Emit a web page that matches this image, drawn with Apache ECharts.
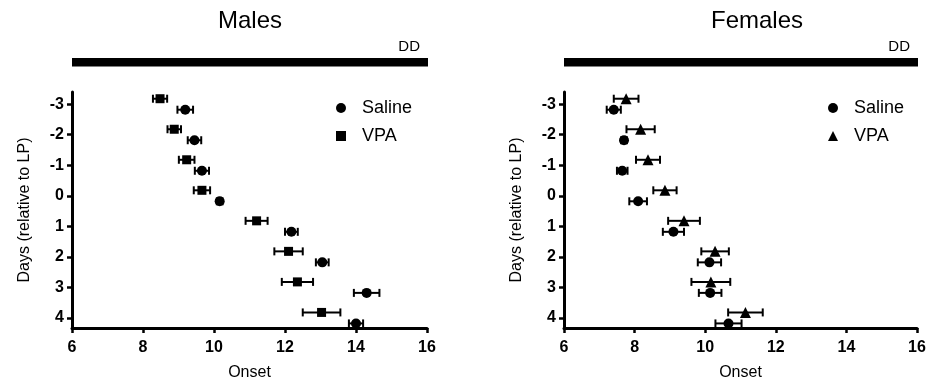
<!DOCTYPE html>
<html><head><meta charset="utf-8">
<script src="https://cdn.jsdelivr.net/npm/echarts@6/dist/echarts.min.js"></script>
<style>html,body{margin:0;padding:0;background:#fff}#c{width:929px;height:385px}</style>
</head><body><div id="c"></div>
<script>
const days = [-3, -2, -1, 0, 1, 2, 3, 4];
const maleSaline = [9.19, 9.45, 9.66, 10.16, 12.18, 13.05, 14.30, 14.00];
const maleSalineErr = [0.22, 0.19, 0.20, 0.08, 0.18, 0.18, 0.36, 0.20];
const maleVPA = [8.48, 8.88, 9.23, 9.66, 11.20, 12.10, 12.35, 13.03];
const maleVPAErr = [0.20, 0.19, 0.22, 0.23, 0.31, 0.40, 0.44, 0.53];
const femaleSaline = [7.41, 7.70, 7.65, 8.10, 9.10, 10.12, 10.14, 10.66];
const femaleSalineErr = [0.20, 0.08, 0.15, 0.25, 0.30, 0.33, 0.32, 0.37];
const femaleVPA = [7.76, 8.17, 8.38, 8.86, 9.40, 10.28, 10.16, 11.14];
const femaleVPAErr = [0.35, 0.40, 0.34, 0.33, 0.45, 0.39, 0.55, 0.49];
const panelTitles = ['Males', 'Females'];
const groupNames = ['Saline', 'VPA'];
const conditionLabel = 'DD';
const xRange = [6, 16];

const FONT = '"Liberation Sans", Arial, sans-serif';
const SAL_OFF = 0.18, VPA_OFF = -0.18;

function pts(vals, off) { return vals.map((v, i) => [v, days[i] + off]); }
function errs(vals, e, off) { return vals.map((v, i) => [v - e[i], days[i] + off, v + e[i]]); }

function errRender(params, api) {
  const lo = api.value(0), y = api.value(1), hi = api.value(2);
  const p1 = api.coord([lo, y]), p2 = api.coord([hi, y]);
  const c = 4;
  const style = { stroke: '#000', lineWidth: 2 };
  return { type: 'group', children: [
    { type: 'line', shape: { x1: p1[0], y1: p1[1], x2: p2[0], y2: p2[1] }, style },
    { type: 'line', shape: { x1: p1[0], y1: p1[1] - c, x2: p1[0], y2: p1[1] + c }, style },
    { type: 'line', shape: { x1: p2[0], y1: p2[1] - c, x2: p2[0], y2: p2[1] + c }, style }
  ]};
}

function xAxis(i) {
  return {
    gridIndex: i, type: 'value', min: xRange[0], max: xRange[1], interval: 2,
    name: 'Onset', nameLocation: 'middle', nameGap: 37,
    nameTextStyle: { fontFamily: FONT, fontSize: 16, color: '#000' },
    axisLine: { onZero: false, lineStyle: { color: '#000', width: 3 } },
    axisTick: { length: 5, lineStyle: { color: '#000', width: 2.5 } },
    axisLabel: { fontFamily: FONT, fontSize: 16, fontWeight: 'bold', color: '#000', margin: 12 },
    splitLine: { show: false }
  };
}
function yAxis(i) {
  return {
    gridIndex: i, type: 'value', inverse: true, min: -3.4, max: 4.33,
    name: 'Days (relative to LP)', nameLocation: 'middle', nameGap: 39, nameRotate: 90,
    nameTextStyle: { fontFamily: FONT, fontSize: 16, color: '#000' },
    axisLine: { onZero: false, lineStyle: { color: '#000', width: 3 } },
    axisTick: { length: 5, customValues: days, lineStyle: { color: '#000', width: 2.5 } },
    axisLabel: { customValues: days, fontFamily: FONT, fontSize: 16, fontWeight: 'bold', color: '#000', margin: 8 },
    splitLine: { show: false }
  };
}

function legend(left, icons) {
  return {
    orient: 'vertical', left: left, top: 94, itemWidth: 10, itemHeight: 10, itemGap: 10,
    textStyle: { fontFamily: FONT, fontSize: 18, color: '#000', padding: [0, 0, 0, 11] },
    itemStyle: { color: '#000', opacity: 1 },
    data: groupNames.map((n, k) => ({ name: n, icon: icons[k] }))
  };
}

const markerStyle = { color: '#000', opacity: 1 };
const chart = echarts.init(document.getElementById('c'), null, { renderer: 'canvas' });
const option = {
  animation: false,
  backgroundColor: '#fff',
  title: [
    { text: panelTitles[0], left: 245, top: 4, textAlign: 'center', textStyle: { fontFamily: FONT, fontSize: 24, fontWeight: 'normal', color: '#000' } },
    { text: panelTitles[1], left: 752, top: 4, textAlign: 'center', textStyle: { fontFamily: FONT, fontSize: 24, fontWeight: 'normal', color: '#000' } }
  ],
  legend: [legend(331, ['circle', 'rect']), legend(823, ['circle', 'triangle'])],
  grid: [
    { left: 72, right: 502, top: 92, bottom: 57, containLabel: false, outerBoundsMode: 'none' },
    { left: 564, right: 12, top: 92, bottom: 57, containLabel: false, outerBoundsMode: 'none' }
  ],
  xAxis: [xAxis(0), xAxis(1)],
  yAxis: [yAxis(0), yAxis(1)],
  series: [
    { type: 'custom', xAxisIndex: 0, yAxisIndex: 0, renderItem: errRender, encode: { x: [0, 2], y: 1 }, data: errs(maleVPA, maleVPAErr, VPA_OFF), z: 2, silent: true },
    { type: 'custom', xAxisIndex: 0, yAxisIndex: 0, renderItem: errRender, encode: { x: [0, 2], y: 1 }, data: errs(maleSaline, maleSalineErr, SAL_OFF), z: 2, silent: true },
    { type: 'custom', xAxisIndex: 1, yAxisIndex: 1, renderItem: errRender, encode: { x: [0, 2], y: 1 }, data: errs(femaleVPA, femaleVPAErr, VPA_OFF), z: 2, silent: true },
    { type: 'custom', xAxisIndex: 1, yAxisIndex: 1, renderItem: errRender, encode: { x: [0, 2], y: 1 }, data: errs(femaleSaline, femaleSalineErr, SAL_OFF), z: 2, silent: true },
    { name: groupNames[0], type: 'scatter', xAxisIndex: 0, yAxisIndex: 0, symbol: 'circle', symbolSize: 10, itemStyle: markerStyle, data: pts(maleSaline, SAL_OFF), z: 3 },
    { name: groupNames[1], type: 'scatter', xAxisIndex: 0, yAxisIndex: 0, symbol: 'rect', symbolSize: 9, itemStyle: markerStyle, data: pts(maleVPA, VPA_OFF), z: 3 },
    { name: groupNames[0], type: 'scatter', xAxisIndex: 1, yAxisIndex: 1, symbol: 'circle', symbolSize: 10, itemStyle: markerStyle, data: pts(femaleSaline, SAL_OFF), z: 3 },
    { name: groupNames[1], type: 'scatter', xAxisIndex: 1, yAxisIndex: 1, symbol: 'triangle', symbolSize: 11, itemStyle: markerStyle, data: pts(femaleVPA, VPA_OFF), z: 3 }
  ]
};
chart.setOption(option);

// DD condition bars spanning each panel's x range
const gfx = [];
[0, 1].forEach(i => {
  const x0 = chart.convertToPixel({ xAxisIndex: i }, xRange[0]);
  const x1 = chart.convertToPixel({ xAxisIndex: i }, xRange[1]);
  gfx.push({ type: 'rect', shape: { x: x0, y: 58, width: x1 - x0 + 1, height: 8.5 }, style: { fill: '#000' } });
  gfx.push({ type: 'text', x: x1 - 7, y: 54, style: { text: conditionLabel, fontFamily: FONT, fontSize: 15, fill: '#000', align: 'right', verticalAlign: 'bottom' } });
});
chart.setOption({ graphic: gfx });
</script></body></html>
